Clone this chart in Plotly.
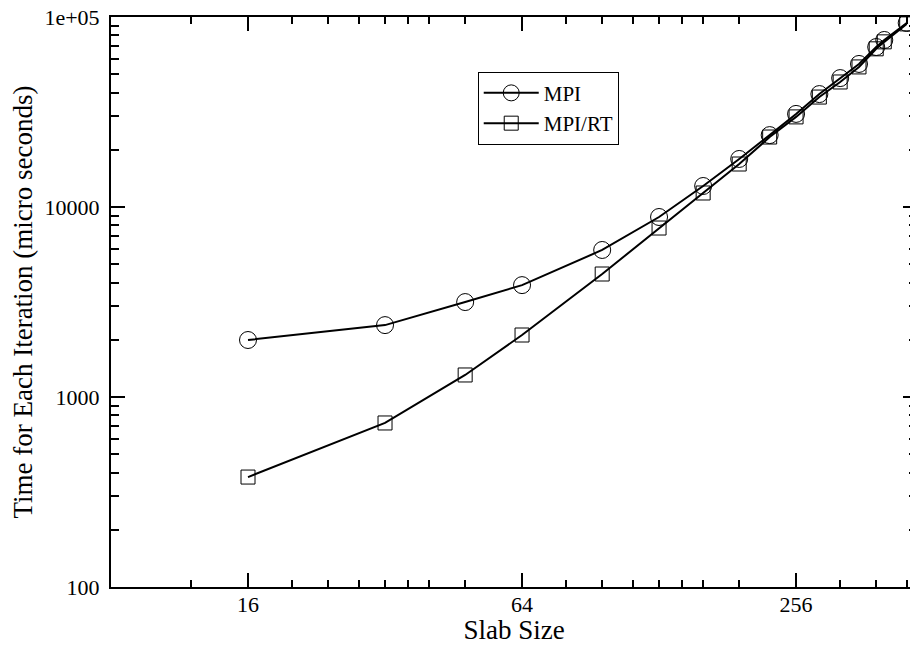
import numpy as np
import plotly.graph_objects as go

slab = [16, 32, 48, 64, 96, 128, 160, 192, 224, 256, 288, 320, 352, 384, 400, 448]
mpi = [1995, 2390, 3160, 3880, 5940, 8860, 12900, 17900, 23900, 30900, 39300, 47700, 56600, 69500, 75700, 93000]
mpi_rt = [379, 730, 1306, 2120, 4440, 7750, 11850, 16840, 23350, 29800, 37900, 45500, 54600, 68000, 74000, 92000]

x_major = [16, 64, 256]
x_major_text = ["16", "64", "256"]
x_minor = [12, 20, 24, 28, 32, 36, 40, 48, 80, 96, 112, 128, 144, 160, 192, 320, 384, 448]
y_major = [100, 1000, 10000, 100000]
y_major_text = ["100", "1000", "10000", "1e+05"]
y_minor = [m * 10 ** d for d in range(2, 5) for m in range(2, 10)]

FONT = "Liberation Serif"
FS = 22
FT = 27

fig = go.Figure()
fig.add_trace(go.Scatter(
    x=slab, y=mpi, name="MPI", mode="lines+markers",
    line=dict(color="black", width=2),
    marker=dict(symbol="circle-open", size=17, color="black", line=dict(width=1)),
))
fig.add_trace(go.Scatter(
    x=slab, y=mpi_rt, name="MPI/RT", mode="lines+markers",
    line=dict(color="black", width=2),
    marker=dict(symbol="square-open", size=14, color="black", line=dict(width=1)),
))

axis_common = dict(
    showgrid=False, zeroline=False, showline=True, linecolor="black", linewidth=2,
    mirror="ticks", ticks="inside", tickcolor="black", tickwidth=1.5, ticklen=14,
    tickfont=dict(family=FONT, size=FS, color="black"),
    automargin=False, ticklabeloverflow="allow",
)

fig.update_xaxes(
    type="log", range=[np.log10(8), np.log10(472)],
    tickmode="array", tickvals=x_major, ticktext=x_major_text,
    minor=dict(tickmode="array", tickvals=x_minor, ticks="inside", ticklen=7,
               tickwidth=1.5, tickcolor="black", showgrid=False),
    title=dict(text="Slab Size", font=dict(family=FONT, size=FT, color="black"), standoff=0),
    ticklabelstandoff=-3,
    **axis_common,
)
fig.update_yaxes(
    type="log", range=[2, 5],
    tickmode="array", tickvals=y_major, ticktext=y_major_text,
    minor=dict(tickmode="array", tickvals=y_minor, ticks="inside", ticklen=8,
               tickwidth=1.5, tickcolor="black", showgrid=False),
    title=dict(text="Time for Each Iteration (micro seconds)",
               font=dict(family=FONT, size=FT, color="black"), standoff=10),
    ticklabelstandoff=5,
    **axis_common,
)

fig.update_layout(
    width=910, height=637,
    margin=dict(l=103, r=1, t=9, b=58),
    paper_bgcolor="white", plot_bgcolor="white",
    font=dict(family=FONT, size=FS, color="black"),
    legend=dict(
        x=0.455, y=0.904, xanchor="left", yanchor="top",
        bgcolor="white", bordercolor="black", borderwidth=1,
        font=dict(family=FONT, size=21, color="black"),
        tracegroupgap=0, itemwidth=55,
    ),
    showlegend=True,
)

fig.write_html("out.html")
